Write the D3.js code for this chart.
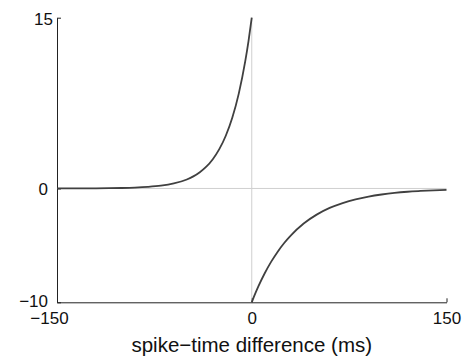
<!DOCTYPE html>
<html>
<head>
<meta charset="utf-8">
<script src="https://cdn.jsdelivr.net/npm/d3@7"></script>
<style>
  html, body { margin: 0; padding: 0; background: #fff; }
  svg { display: block; font-family: "Liberation Sans", Arial, Helvetica, sans-serif; }
</style>
</head>
<body>
<svg id="chart" width="470" height="362"></svg>
<script>
// Spike-timing-dependent plasticity window: weight change vs. spike-time difference
// Potentiation branch (pre before post, negative differences)
const ltpTimes  = [-150, -140, -130, -120, -110, -100, -90, -80, -70, -60, -50, -45, -40, -35, -30, -25, -20, -15, -10, -5, -2.5, 0];
const ltpValues = [0.00, 0.004, 0.007, 0.013, 0.023, 0.042, 0.075, 0.135, 0.24, 0.44, 0.79, 1.06, 1.43, 1.91, 2.57, 3.45, 4.63, 6.21, 8.33, 11.18, 12.95, 15];

// Depression branch (post before pre, positive differences)
const ltdTimes  = [0, 2.5, 5, 10, 15, 20, 25, 30, 40, 50, 60, 70, 80, 90, 100, 110, 120, 130, 140, 150];
const ltdValues = [-10, -9.29, -8.63, -7.45, -6.43, -5.55, -4.79, -4.14, -3.08, -2.30, -1.71, -1.28, -0.95, -0.71, -0.53, -0.39, -0.29, -0.22, -0.16, -0.12];

const xTicks = [-150, 0, 150];
const yTicks = [-10, 0, 15];
const xLabel = "spike\u2212time difference (ms)";

const svg = d3.select("#chart");
const x = d3.scaleLinear().domain([-150, 150]).range([57, 446.5]);
const y = d3.scaleLinear().domain([-10, 15]).range([302.3, 17.7]);

const fmt = d => d < 0 ? "\u2212" + Math.abs(d) : String(d);

// Reference lines through the origin
svg.append("line")
  .attr("x1", x(-150)).attr("x2", x(150))
  .attr("y1", y(0)).attr("y2", y(0))
  .attr("stroke", "#cfcfcf").attr("stroke-width", 1);
svg.append("line")
  .attr("x1", x(0)).attr("x2", x(0))
  .attr("y1", y(15)).attr("y2", y(-10))
  .attr("stroke", "#cfcfcf").attr("stroke-width", 1);

// Axes
const xAxis = svg.append("g")
  .attr("transform", `translate(0,${y(-10)})`)
  .call(d3.axisBottom(x).tickValues(xTicks).tickFormat(fmt).tickSizeInner(-4).tickSizeOuter(0).tickPadding(10));
const yAxis = svg.append("g")
  .attr("transform", `translate(${x(-150)},0)`)
  .call(d3.axisLeft(y).tickValues(yTicks).tickFormat(fmt).tickSizeInner(-4).tickSizeOuter(0).tickPadding(9));

[xAxis, yAxis].forEach(g => {
  g.select(".domain").attr("stroke", "#222").attr("stroke-width", 1);
  g.selectAll(".tick line").attr("stroke", "#222");
  g.selectAll(".tick text").attr("fill", "#111").style("font-size", "17px");
});
xAxis.selectAll(".tick text").attr("dy", "0.71em")
  .attr("dx", d => d === xTicks[0] ? -8 : 0);
yAxis.selectAll(".tick text")
  .attr("dy", d => d === yTicks[0] ? "0.25em" : "0.38em")
  .attr("dx", d => d === yTicks[yTicks.length - 1] ? 5 : 0);

// Curve branches
const line = d3.line()
  .x(d => x(d[0]))
  .y(d => y(d[1]))
  .curve(d3.curveMonotoneX);

svg.append("path")
  .datum(d3.zip(ltpTimes, ltpValues))
  .attr("d", line)
  .attr("fill", "none")
  .attr("stroke", "#404040")
  .attr("stroke-width", 1.8);

svg.append("path")
  .datum(d3.zip(ltdTimes, ltdValues))
  .attr("d", line)
  .attr("fill", "none")
  .attr("stroke", "#404040")
  .attr("stroke-width", 1.8);

// Axis title
svg.append("text")
  .attr("x", x(0))
  .attr("y", 352)
  .attr("text-anchor", "middle")
  .attr("fill", "#111")
  .style("font-size", "20.5px")
  .text(xLabel);
</script>
</body>
</html>
